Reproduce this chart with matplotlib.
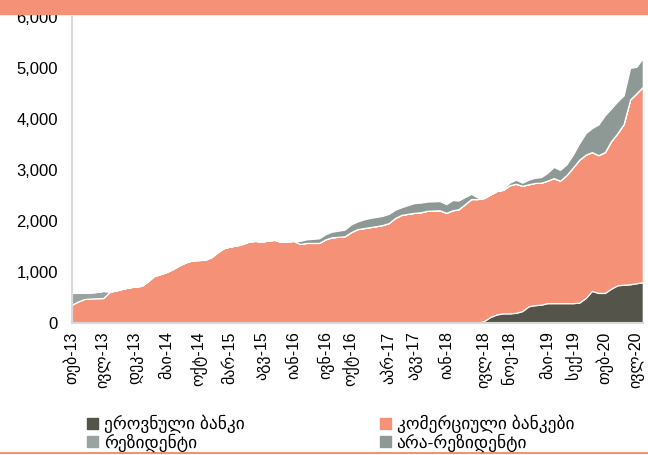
import matplotlib
matplotlib.use("Agg")
import matplotlib.pyplot as plt
import matplotlib.patches as mpatches
import pandas as pd

# monthly observations, Feb-2013 .. Aug-2020
months = pd.date_range("2013-02-01", periods=91, freq="MS")

# national bank (bottom layer)
national_bank = [0] * 65 + [
    40, 120, 170, 190, 190, 200, 235, 330, 350, 360,
    390, 390, 390, 390, 390, 400, 490, 630, 590, 590,
    670, 740, 750, 760, 780, 800,
]

# top of the salmon layer (national bank + commercial banks)
banks_total = [
    360, 420, 470, 480, 485, 490, 610, 640, 670, 700,
    715, 730, 820, 920, 960, 1000, 1060, 1130, 1190, 1230,
    1235, 1240, 1290, 1390, 1470, 1500, 1520, 1550, 1600, 1610,
    1595, 1620, 1630, 1590, 1600, 1610, 1550, 1570, 1570, 1570,
    1640, 1680, 1690, 1700, 1780, 1840, 1860, 1880, 1900, 1920,
    1960, 2060, 2120, 2140, 2160, 2170, 2200, 2205, 2210, 2160,
    2210, 2230, 2330, 2430, 2430, 2450, 2520, 2590, 2610, 2700,
    2730, 2690, 2720, 2745, 2750, 2790, 2840, 2790, 2900, 3050,
    3200, 3300, 3350, 3290, 3350, 3560, 3720, 3900, 4380, 4500,
    4630,
]
commercial_banks = [t - n for t, n in zip(banks_total, national_bank)]

residents = [240, 180, 130, 120, 125, 140, 10] + [0] * 84

non_residents = [0] * 36 + [
    60, 70, 80, 90, 100, 110, 120, 130, 150, 150,
    170, 180, 180, 180, 180, 160, 150, 170, 190, 190,
    180, 180, 180, 170, 200, 170, 140, 100, 30, 0,
    0, 0, 20, 50, 80, 60, 90, 100, 110, 150,
    220, 210, 210, 250, 320, 420, 470, 600, 720, 640,
    620, 560, 620, 520, 560,
]

series_names = ["ეროვნული ბანკი", "კომერციული ბანკები", "რეზიდენტი", "არა-რეზიდენტი"]
colors = ["#55544b", "#f59176", "#99a39f", "#8e9996"]

geo_months = ["იან", "თებ", "მარ", "აპრ", "მაი", "ივნ",
              "ივლ", "აგვ", "სექ", "ოქტ", "ნოე", "დეკ"]
tick_months = ["2013-02", "2013-07", "2013-12", "2014-05", "2014-10", "2015-03",
               "2015-08", "2016-01", "2016-06", "2016-10", "2017-04", "2017-08",
               "2018-01", "2018-07", "2018-11", "2019-05", "2019-09", "2020-02",
               "2020-07"]

plt.rcParams["font.family"] = ["Liberation Sans", "DejaVu Sans"]

fig = plt.figure(figsize=(6.48, 4.55), dpi=100)
ax = fig.add_axes([0.111, 0.290, 0.881, 0.673])

ax.stackplot(months, national_bank, commercial_banks, residents, non_residents,
             colors=colors, edgecolor="white", linewidth=0.9)

ax.set_xlim(months[0], months[-1])
ax.set_ylim(0, 6000)
ax.set_yticks(range(0, 6001, 1000))
ax.yaxis.set_major_formatter(matplotlib.ticker.FuncFormatter(lambda v, p: f"{int(v):,}"))

tick_dates = pd.to_datetime(tick_months)
ax.set_xticks(tick_dates)
ax.set_xticklabels([f"{geo_months[d.month - 1]}-{d.year % 100:02d}" for d in tick_dates],
                   rotation=90)
ax.tick_params(axis="both", length=0, labelsize=12, colors="black")
ax.tick_params(axis="x", pad=6, labelsize=11.5)
ax.tick_params(axis="y", pad=10)

for side in ["top", "right"]:
    ax.spines[side].set_visible(False)
for side in ["left", "bottom"]:
    ax.spines[side].set_color("#d9d9d9")
    ax.spines[side].set_linewidth(1.5)

# legend fills column-wise, so order handles to read row by row
handles = [mpatches.Patch(color=c, label=n) for c, n in zip(colors, series_names)]
order = [0, 2, 1, 3]
fig.legend(handles=[handles[i] for i in order], loc="upper left",
           bbox_to_anchor=(0.135, 0.088), ncol=2, frameon=False, fontsize=12.5,
           handlelength=0.6, handleheight=0.6, handletextpad=0.35,
           columnspacing=7.8, labelspacing=0.0, borderaxespad=0, borderpad=0)

# decorative bands of the page
fig.patches.append(mpatches.Rectangle((0, 1 - 14 / 455), 1, 14 / 455,
                                      transform=fig.transFigure, color="#f59176", zorder=0))
fig.lines.append(plt.Line2D([0, 1], [1 - 453 / 455] * 2, transform=fig.transFigure,
                            color="#f59176", linewidth=1.5))

fig.savefig("out.png", dpi=100)
